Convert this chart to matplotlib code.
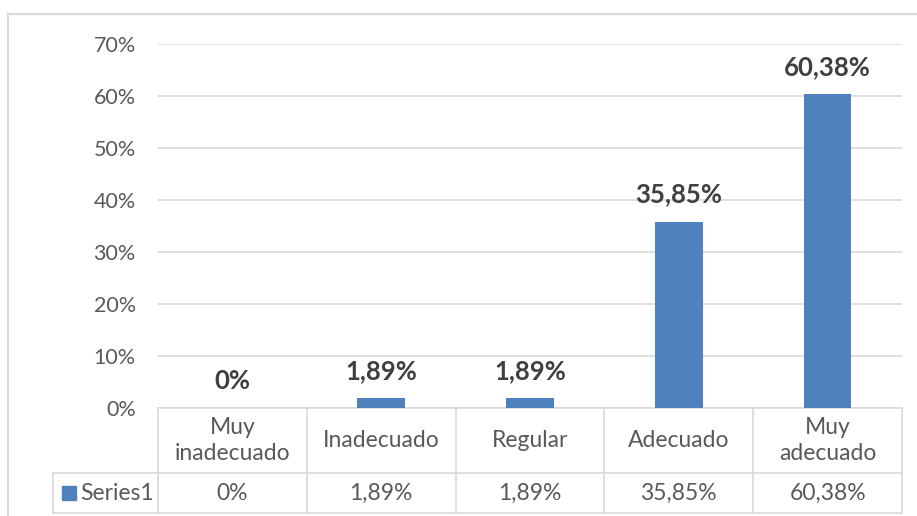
import matplotlib
matplotlib.use("Agg")
import matplotlib.pyplot as plt
from matplotlib.patches import Rectangle
from matplotlib.lines import Line2D
import matplotlib.transforms as mtransforms

categories = ["Muy\ninadecuado", "Inadecuado", "Regular", "Adecuado", "Muy\nadecuado"]
values = [0.0, 1.89, 1.89, 35.85, 60.38]
value_labels = ["0%", "1,89%", "1,89%", "35,85%", "60,38%"]
yticks = [0, 10, 20, 30, 40, 50, 60, 70]
series_name = "Series1"

W, H = 917, 516
DPI = 100
plt.rcParams['font.family'] = ['Lato', 'DejaVu Sans']

fig = plt.figure(figsize=(W / DPI, H / DPI), dpi=DPI)
fig.patch.set_facecolor("white")

def fx(px):
    return px / W

def fy(py):
    return 1 - py / H

# outer chart border
fig.add_artist(Line2D([fx(7.5), fx(7.5)], [fy(14), 0], color="#d9d9d9", lw=1.5))
fig.add_artist(Line2D([fx(7.5), 1], [fy(14), fy(14)], color="#d9d9d9", lw=1.5))

left, right, top, bottom = 158, 902, 44, 408
ax = fig.add_axes([fx(left), fy(bottom), fx(right) - fx(left), (bottom - top) / H])

x = list(range(len(categories)))
bar_color = "#4f81bd"
ax.bar(x, values, width=0.32, color=bar_color, zorder=3)
ax.set_xlim(-0.5, len(categories) - 0.5)
ax.set_ylim(0, 70)
ax.set_yticks(yticks)
ax.set_yticklabels([f"{t}%" for t in yticks], fontsize=15.5, color="#595959")
ax.tick_params(axis="y", length=0, pad=16)
ax.set_xticks([])
ax.grid(axis="y", color="#d9d9d9", lw=1.2, zorder=0)
for s in ax.spines.values():
    s.set_visible(False)

for xi, v, lab in zip(x, values, value_labels):
    ax.annotate(lab, (xi, v), xytext=(0, 11), textcoords="offset points",
                ha="center", va="bottom", fontsize=18.5, fontweight="bold",
                color="#404040")

# data table
grid_c = "#d9d9d9"
ax_h_px = bottom - top
def ay(py):
    # axes fraction for a pixel y
    return (bottom - py) / ax_h_px

trans = mtransforms.blended_transform_factory(ax.transData, ax.transAxes)
row1_bot = 473
row2_bot = 513
n = len(categories)
for i in range(n + 1):
    xb = -0.5 + i
    ax.add_line(Line2D([xb, xb], [0, ay(row2_bot)], transform=trans, color=grid_c,
                       lw=1.2, clip_on=False))
# horizontal lines
ax.add_line(Line2D([-0.5, n - 0.5], [0, 0], transform=trans, color=grid_c, lw=1.2, clip_on=False))
tleft = ax.transAxes.inverted().transform(fig.transFigure.transform((fx(53), 0)))[0]
for py in (row1_bot, row2_bot):
    ax.add_line(Line2D([tleft, 1], [ay(py), ay(py)], transform=ax.transAxes,
                       color=grid_c, lw=1.2, clip_on=False))
ax.add_line(Line2D([tleft, tleft], [ay(row1_bot), ay(row2_bot)], transform=ax.transAxes,
                   color=grid_c, lw=1.2, clip_on=False))

for xi, cat, lab in zip(x, categories, value_labels):
    ax.text(xi, ay((bottom + row1_bot) / 2), cat, transform=trans, ha="center",
            va="center", fontsize=16.5, color="#595959", linespacing=1.3, clip_on=False)
    ax.text(xi, ay((row1_bot + row2_bot) / 2), lab, transform=trans, ha="center",
            va="center", fontsize=16.5, color="#595959", clip_on=False)

# legend key + series name
fig.add_artist(Rectangle((fx(62), fy(500)), fx(14), 14 / H, color=bar_color))
fig.text(fx(80), fy((row1_bot + row2_bot) / 2), series_name, ha="left", va="center",
         fontsize=16.5, color="#595959")

fig.savefig("out.png", dpi=DPI, facecolor="white")
